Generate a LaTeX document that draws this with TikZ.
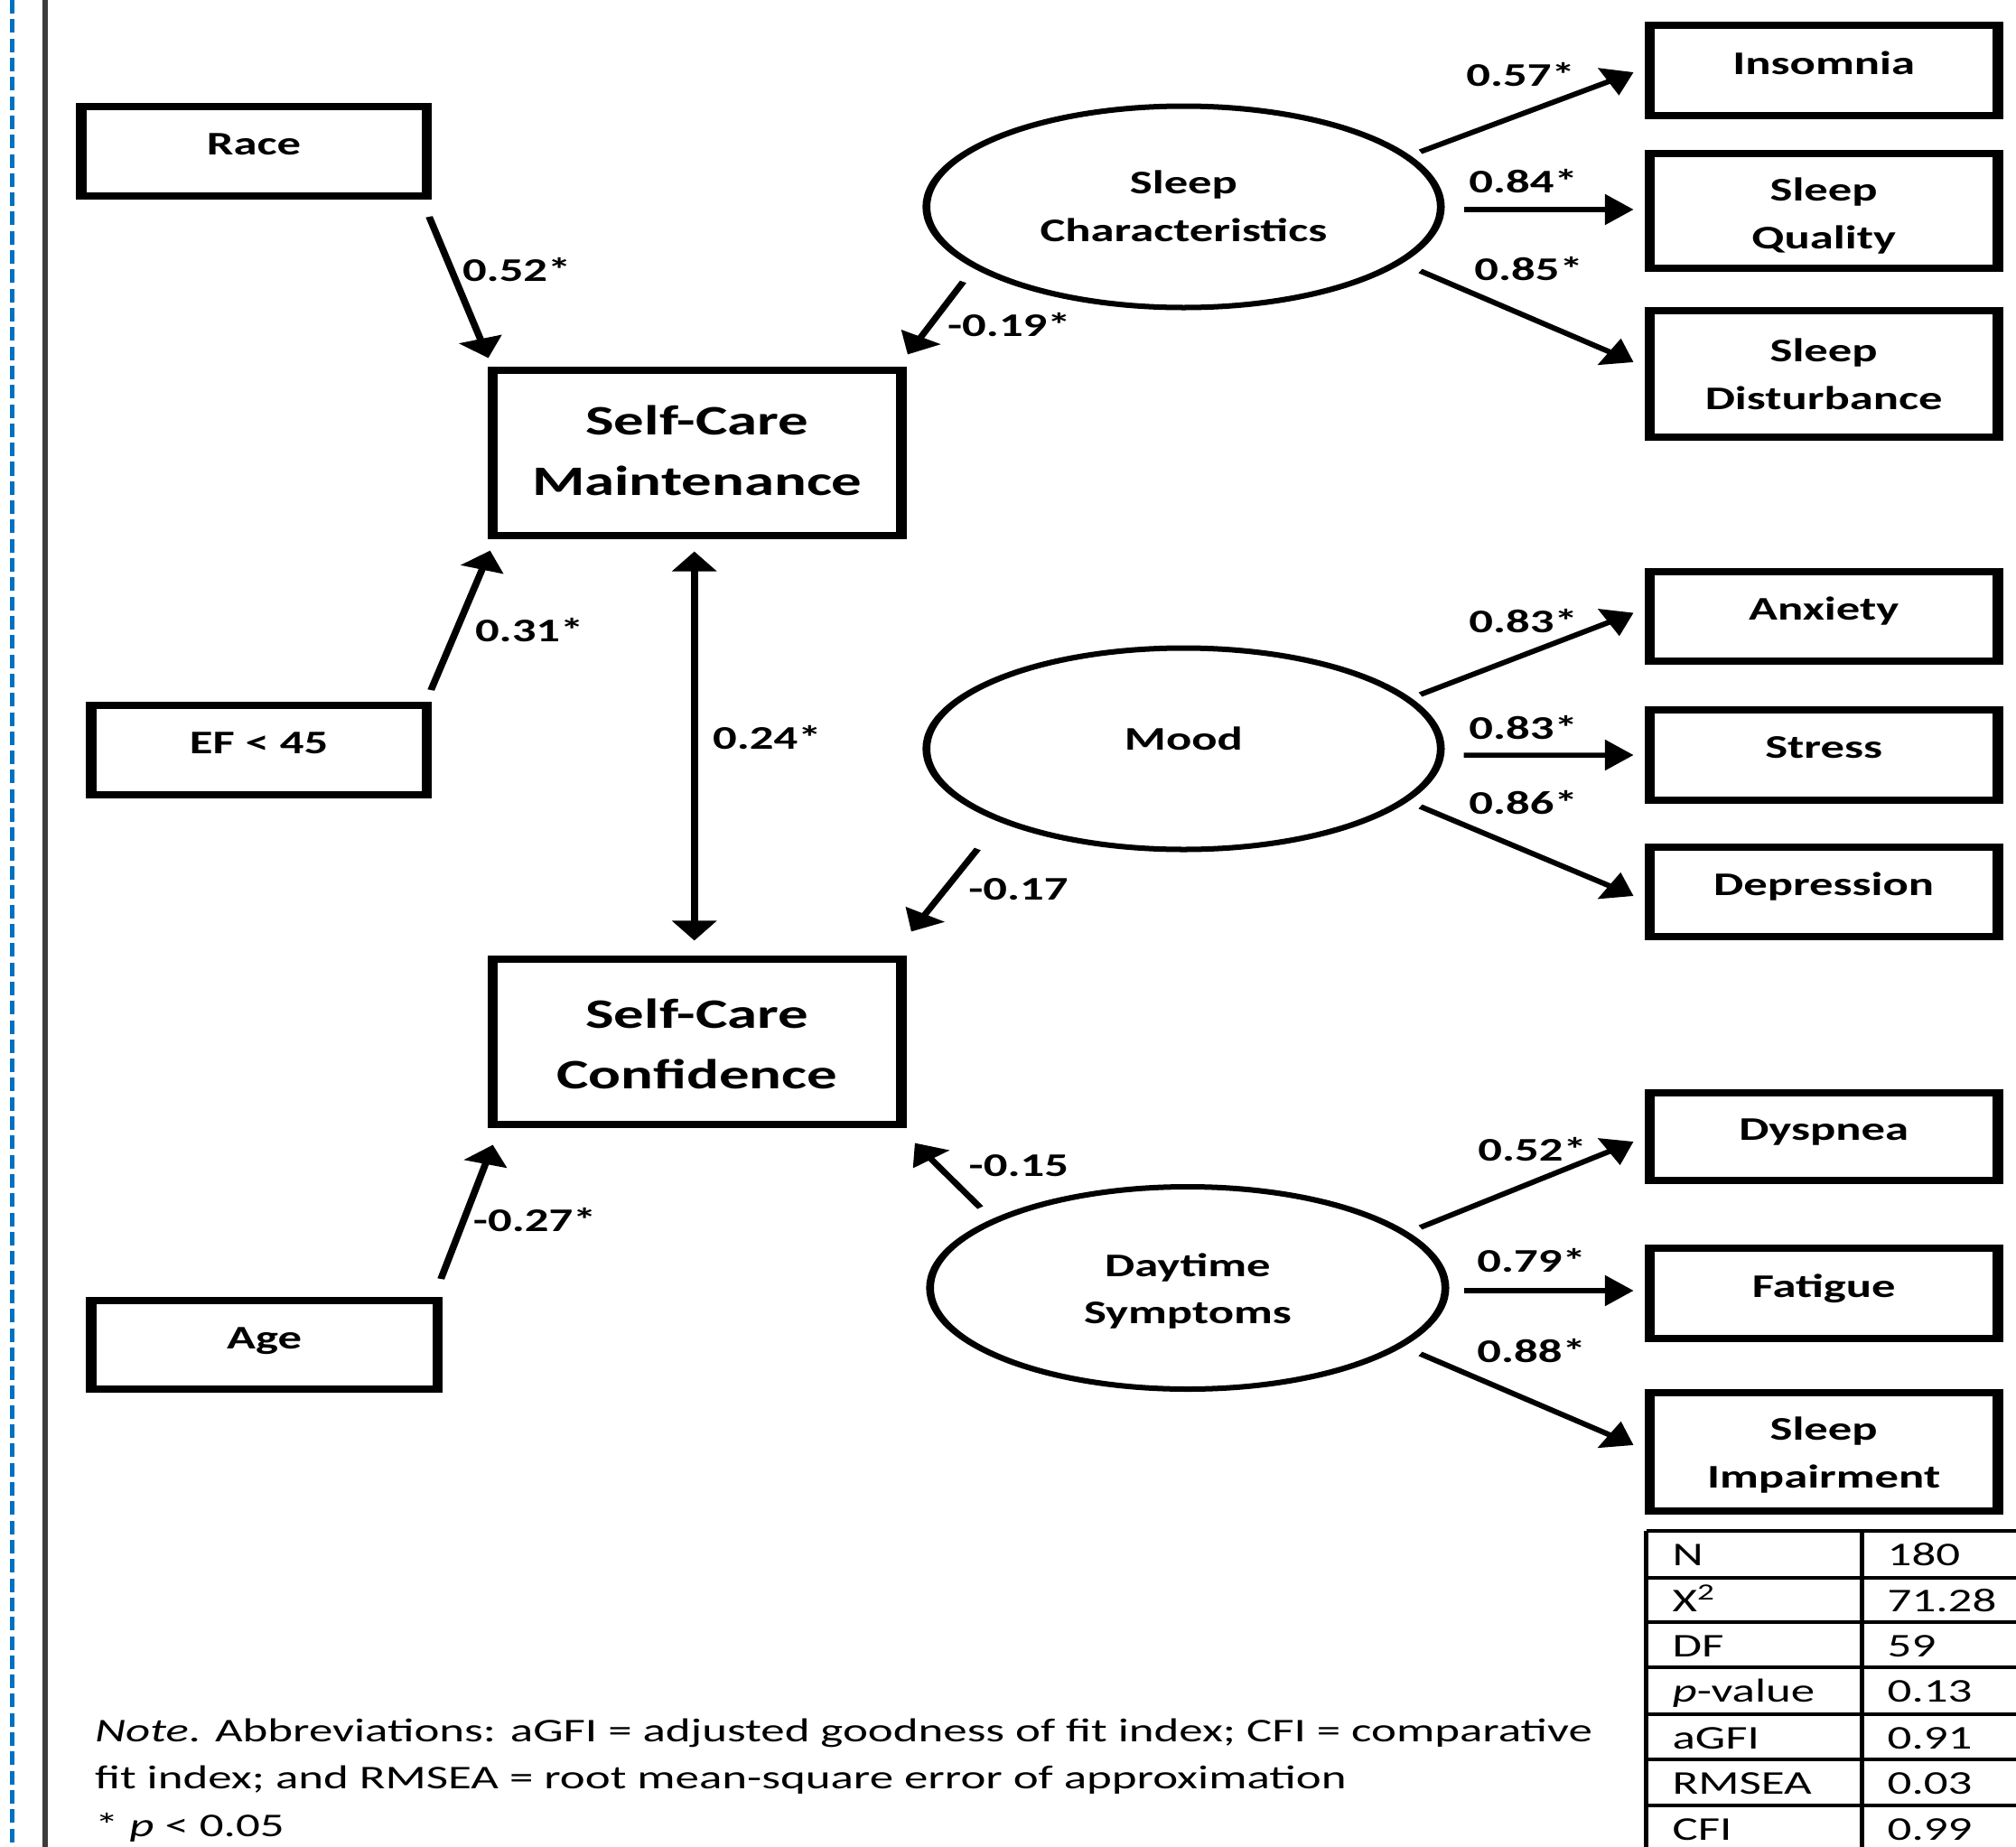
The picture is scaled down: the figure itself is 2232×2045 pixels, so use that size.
\documentclass[tikz,border=0pt]{standalone}
\usepackage{fontspec}
\setmainfont{Carlito}
\usetikzlibrary{arrows.meta,shapes.geometric}
\definecolor{dashblue}{RGB}{0,112,192}
\definecolor{rulegray}{RGB}{60,60,60}
\tikzset{
  lbl/.style={font=\fontsize{10.4pt}{14.8pt}\selectfont\bfseries},
  big/.style={font=\fontsize{13.2pt}{18.8pt}\selectfont\bfseries},
  plain/.style={font=\fontsize{10.45pt}{14.8pt}\selectfont},
  bx/.style={draw,rectangle,line width=0.08cm,inner sep=0pt,outer sep=0.04cm,align=center},
  sz/.style 2 args={minimum width={#1*0.0069444cm-0.08cm},minimum height={#2*0.01cm-0.08cm}},
  el/.style={draw,ellipse,line width=0.06cm,inner sep=0pt,outer sep=0.03cm,align=center},
  esz/.style 2 args={minimum width={#1*0.0069444cm-0.06cm},minimum height={#2*0.01cm-0.06cm}},
  one/.style={text height=0.25cm,text depth=0.17cm},
  arr/.style={line width=0.055cm,-{Triangle[length=0.22cm,width=0.33cm]}},
  arrtwo/.style={line width=0.055cm,{Triangle[length=0.22cm,width=0.33cm]}-{Triangle[length=0.22cm,width=0.33cm]}},
  coef/.style={lbl,inner sep=0pt},
  tabline/.style={line width=0.033cm},
  tabtxt/.style={plain,inner sep=0pt,anchor=base west}
}
\begin{document}
\begin{tikzpicture}[x=0.01cm,y=-0.01cm]
\useasboundingbox (0,0) rectangle (2232,2045);
\fill[white] (0,0) rectangle (2232,2045);
\draw[dashblue,line width=0.05cm,dash pattern=on 0.15cm off 0.063cm] (13.5,0) -- (13.5,2045);
\draw[rulegray,line width=0.065cm] (50,0) -- (50,2045);
\begin{scope}[transform canvas={xscale=1.44},x=0.0069444cm,y=-0.01cm]
% left boxes
\node[bx,sz={394}{107},lbl,one] (race) at (281,167.5) {Race};
\node[bx,sz={383}{107},lbl,one] (ef) at (286.5,830.5) {EF < 45};
\node[bx,sz={395}{106},lbl,one] (age) at (292.5,1489) {Age};
\node[bx,sz={464}{191},big,text height=0.96cm,text depth=0.02cm] (scm) at (771.5,501) {Self-Care\\Maintenance};
\node[bx,sz={464}{191},big,text height=1.06cm,text depth=0.02cm] (scc) at (771.5,1153) {Self-Care\\Confidence};
% latent ellipses
\node[el,esz={578}{229},lbl,text height=0.78cm,text depth=0.02cm] (sc) at (1310,229) {Sleep\\Characteristics};
\node[el,esz={578}{229},lbl,text height=0.25cm,text depth=0.23cm] (mo) at (1310,829) {Mood};
\node[el,esz={579}{230},lbl,text height=0.81cm,text depth=0.02cm] (ds) at (1314.5,1426) {Daytime\\Symptoms};
% indicator boxes
\node[bx,sz={397}{108},lbl,one] (ins) at (2018.5,78) {Insomnia};
\node[bx,sz={397}{135},lbl,text height=0.85cm,text depth=0.02cm] (sq) at (2018.5,233.5) {Sleep\\Quality};
\node[bx,sz={397}{148},lbl,text height=0.80cm,text depth=0.02cm] (sd) at (2018.5,414) {Sleep\\Disturbance};
\node[bx,sz={397}{107},lbl,one] (an) at (2018.5,682.5) {Anxiety};
\node[bx,sz={397}{108},lbl,one] (st) at (2018.5,835.6) {Stress};
\node[bx,sz={397}{107},lbl,one] (de) at (2018.5,987) {Depression};
\node[bx,sz={397}{105},lbl,one] (dy) at (2018.5,1258) {Dyspnea};
\node[bx,sz={397}{108},lbl,one] (fa) at (2018.5,1432) {Fatigue};
\node[bx,sz={397}{139},lbl,text height=0.81cm,text depth=0.02cm] (si) at (2018.5,1607.5) {Sleep\\Impairment};
% structural paths
\draw[arr] ([shift={(-3,19)}]race.south east) -- ([shift={(1,-9)}]scm.north west);
\draw[arr] ([shift={(-244,83)}]sc.center) -- ([shift={(1,-13)}]scm.north east);
\draw[arr] ([shift={(-1,-13)}]ef.north east) -- ([shift={(3,13)}]scm.south west);
\draw[arrtwo] ([shift={(-3,14)}]scm.south) -- ([shift={(-3,-16)}]scc.north);
\draw[arr] ([shift={(-228,111)}]mo.center) -- ([shift={(5,-26)}]scc.north east);
\draw[arr] ([shift={(-229.5,-89)}]ds.center) -- ([shift={(9,17)}]scc.south east);
\draw[arr] ([shift={(-2,-20)}]age.north east) -- ([shift={(6,19)}]scc.south west);
% measurement paths
\draw[arr] ([shift={(262,-61)}]sc.center) -- ([shift={(-12,2)}]ins.west);
\draw[arr] ([shift={(310,3)}]sc.center) -- ([shift={(-12,-1.5)}]sq.west);
\draw[arr] ([shift={(262,71)}]sc.center) -- ([shift={(-12,-13)}]sd.west);
\draw[arr] ([shift={(262,-60)}]mo.center) -- ([shift={(-12,-4)}]an.west);
\draw[arr] ([shift={(310,7)}]mo.center) -- ([shift={(-12,0.4)}]st.west);
\draw[arr] ([shift={(262,64)}]mo.center) -- ([shift={(-12,5)}]de.west);
\draw[arr] ([shift={(257.5,-67)}]ds.center) -- ([shift={(-12,6)}]dy.west);
\draw[arr] ([shift={(305.5,3)}]ds.center) -- ([shift={(-12,-3)}]fa.west);
\draw[arr] ([shift={(257.5,73)}]ds.center) -- ([shift={(-12,-7.5)}]si.west);
% coefficients
\node[coef] (c1) at (572,299) {0.52*};
\node[coef] (c2) at (1117,360) {-0.19*};
\node[coef] (c3) at (586,697.5) {0.31*};
\node[coef] (c4) at (849,817) {0.24*};
\node[coef] (c5) at (1127,985) {-0.17};
\node[coef] (c6) at (1127.5,1291) {-0.15};
\node[coef] (c7) at (592,1351) {-0.27*};
\node[coef] (c8) at (1683,82.5) {0.57*};
\node[coef] (c9) at (1686,201) {0.84*};
\node[coef] (c10) at (1692,298) {0.85*};
\node[coef] (c11) at (1686,687.5) {0.83*};
\node[coef] (c12) at (1686,806) {0.83*};
\node[coef] (c13) at (1686,889) {0.86*};
\node[coef] (c14) at (1696,1272.5) {0.52*};
\node[coef] (c15) at (1695,1396) {0.79*};
\node[coef] (c16) at (1695,1496) {0.88*};
% fit table
\foreach \yy in {1695,1747,1796,1846,1898,1948,1999}
  \draw[tabline] (1822,\yy) -- (2240,\yy);
\draw[tabline] (1822,1695) -- (1822,2050);
\draw[tabline] (2061,1695) -- (2061,2050);
\node[tabtxt] (t1a) at (1850,1733) {N};
\node[tabtxt] (t1b) at (2088,1733) {180};
\node[tabtxt] (t2a) at (1850,1784) {X\textsuperscript{2}};
\node[tabtxt] (t2b) at (2088,1784) {71.28};
\node[tabtxt] (t3a) at (1850,1834) {DF};
\node[tabtxt] (t3b) at (2088,1834) {59};
\node[tabtxt] (t4a) at (1850,1884) {\textit{p}-value};
\node[tabtxt] (t4b) at (2088,1884) {0.13};
\node[tabtxt] (t5a) at (1850,1936) {aGFI};
\node[tabtxt] (t5b) at (2088,1936) {0.91};
\node[tabtxt] (t6a) at (1850,1986) {RMSEA};
\node[tabtxt] (t6b) at (2088,1986) {0.03};
\node[tabtxt] (t7a) at (1850,2037) {CFI};
\node[tabtxt] (t7b) at (2088,2037) {0.99};
% note (anchored at the baseline of its last line)
\node[plain,inner sep=0pt,anchor=base west,align=left] (note) at (104,2033)
  {\textit{Note}. Abbreviations: aGFI = adjusted goodness of fit index; CFI = comparative\\
   fit index; and RMSEA = root mean-square error of approximation\\
   * \textit{p} < 0.05};
\end{scope}
\end{tikzpicture}
\end{document}
